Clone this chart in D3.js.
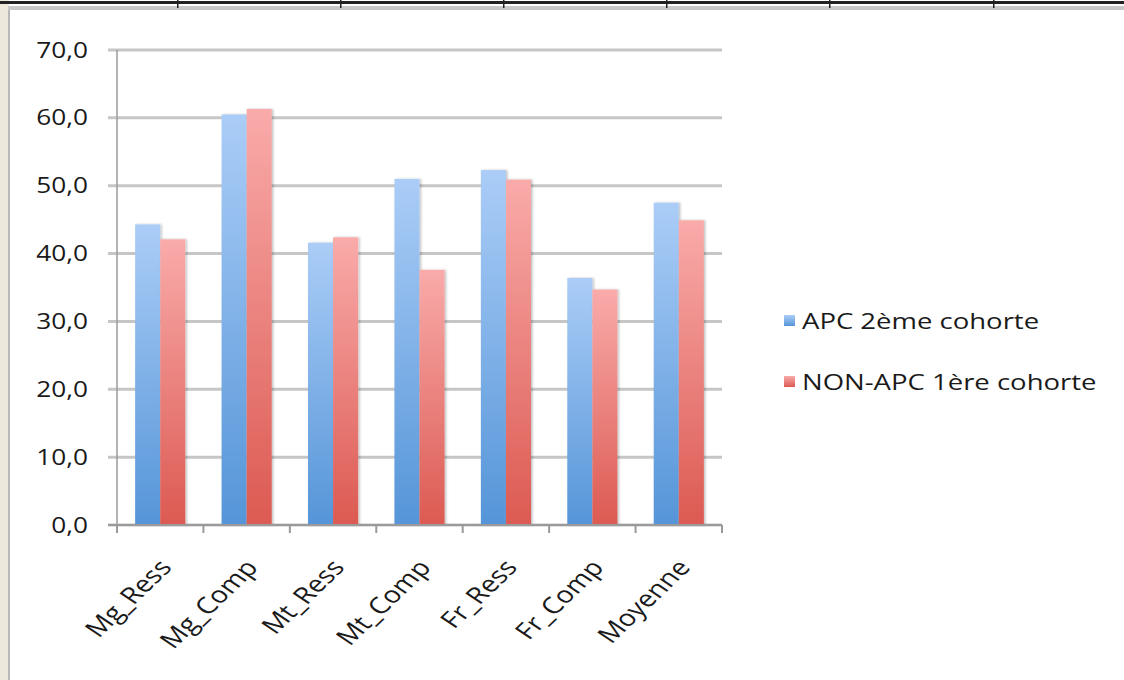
<!DOCTYPE html>
<html>
<head>
<meta charset="utf-8">
<script src="https://cdn.jsdelivr.net/npm/d3@7"></script>
<style>
  html, body { margin: 0; padding: 0; background: #fff; }
  svg { display: block; font-family: "Open Sans", "Noto Sans", sans-serif; }
</style>
</head>
<body>
<div id="chart"></div>
<script>
const categories = ["Mg_Ress", "Mg_Comp", "Mt_Ress", "Mt_Comp", "Fr_Ress", "Fr_Comp", "Moyenne"];
const seriesNames = ["APC 2ème cohorte", "NON-APC 1ère cohorte"];
const apc = [44.3, 60.5, 41.6, 51.0, 52.3, 36.4, 47.5];
const nonApc = [42.1, 61.3, 42.4, 37.6, 50.9, 34.7, 44.9];
const yTicks = [0, 10, 20, 30, 40, 50, 60, 70];

const width = 1124, height = 680;
// the original screenshot is stretched sideways, so text is too
const sx = 1.25;
const fontSize = 21;

const svg = d3.select("#chart").append("svg")
  .attr("width", width)
  .attr("height", height);

const defs = svg.append("defs");
const grads = [
  { id: "gBlue", top: "#abcdf7", bottom: "#5595d8" },
  { id: "gRed", top: "#f9abaa", bottom: "#dc5a52" }
];
grads.forEach(g => {
  const lg = defs.append("linearGradient").attr("id", g.id)
    .attr("x1", 0).attr("y1", 0).attr("x2", 0).attr("y2", 1);
  lg.append("stop").attr("offset", "0%").attr("stop-color", g.top);
  lg.append("stop").attr("offset", "100%").attr("stop-color", g.bottom);
});
const shadow = defs.append("filter").attr("id", "shadow")
  .attr("x", "-20%").attr("y", "-5%").attr("width", "150%").attr("height", "110%");
shadow.append("feDropShadow").attr("dx", 1.5).attr("dy", 0).attr("stdDeviation", 1.2)
  .attr("flood-color", "#000").attr("flood-opacity", 0.25);

// window frame bits around the chart
svg.append("rect").attr("x", 0).attr("y", 0).attr("width", 9).attr("height", height).attr("fill", "#ece9dc");
svg.append("rect").attr("x", 8).attr("y", 8).attr("width", 2).attr("height", height).attr("fill", "#b8b8b8");
svg.append("rect").attr("x", 8).attr("y", 6).attr("width", width).attr("height", 4).attr("fill", "#c8c8c8");
svg.append("rect").attr("x", 0).attr("y", 1).attr("width", width).attr("height", 3).attr("fill", "#222");
[177, 340, 503, 666, 829, 993].forEach(x => {
  svg.append("rect").attr("x", x).attr("y", 0).attr("width", 1.5).attr("height", 8).attr("fill", "#222");
});

const margin = { left: 117, right: 722, top: 50, bottom: 525 };

const x = d3.scaleBand()
  .domain(categories)
  .range([margin.left, margin.right])
  .paddingInner(0.42)
  .paddingOuter(0.21);

const x1 = d3.scaleBand()
  .domain([0, 1])
  .range([0, x.bandwidth()]);

const y = d3.scaleLinear()
  .domain([0, 70])
  .range([margin.bottom, margin.top]);

const fmt = v => d3.format(".1f")(v).replace(".", ",");

// gridlines
svg.append("g")
  .selectAll("line")
  .data(yTicks)
  .join("line")
  .attr("x1", margin.left - 9)
  .attr("x2", margin.right)
  .attr("y1", d => y(d))
  .attr("y2", d => y(d))
  .attr("stroke", "#c6c6c6")
  .attr("stroke-width", 3);

// y axis labels
svg.append("g")
  .selectAll("text")
  .data(yTicks)
  .join("text")
  .attr("transform", d => `translate(88,${y(d)}) scale(${sx},1)`)
  .attr("dy", "0.36em")
  .attr("text-anchor", "end")
  .attr("font-size", fontSize)
  .attr("fill", "#1a1a1a")
  .text(fmt);

svg.append("line")
  .attr("x1", margin.left).attr("x2", margin.left)
  .attr("y1", margin.top).attr("y2", margin.bottom)
  .attr("stroke", "#9a9a9a").attr("stroke-width", 1.5);

// bars
const data = categories.map((c, i) => ({ cat: c, values: [apc[i], nonApc[i]] }));
const groups = svg.append("g")
  .selectAll("g")
  .data(data)
  .join("g")
  .attr("transform", d => `translate(${x(d.cat)},0)`);

groups.selectAll("rect")
  .data(d => d.values.map((v, k) => ({ v, k })))
  .join("rect")
  .attr("x", d => x1(d.k))
  .attr("width", x1.bandwidth())
  .attr("y", d => y(d.v))
  .attr("height", d => y(0) - y(d.v))
  .attr("fill", d => d.k === 0 ? "url(#gBlue)" : "url(#gRed)")
  .attr("filter", "url(#shadow)");

// x axis line and ticks
svg.append("line")
  .attr("x1", margin.left - 9).attr("x2", margin.right)
  .attr("y1", margin.bottom).attr("y2", margin.bottom)
  .attr("stroke", "#9a9a9a").attr("stroke-width", 2);

const step = (margin.right - margin.left) / categories.length;
svg.append("g")
  .selectAll("line")
  .data(d3.range(categories.length + 1))
  .join("line")
  .attr("x1", d => margin.left + d * step)
  .attr("x2", d => margin.left + d * step)
  .attr("y1", margin.bottom)
  .attr("y2", margin.bottom + 8)
  .attr("stroke", "#9a9a9a")
  .attr("stroke-width", 2);

// x labels, rotated
svg.append("g")
  .selectAll("text")
  .data(categories)
  .join("text")
  .attr("transform", d => `translate(${x(d) + x.bandwidth() / 2 + 5},${margin.bottom + 38}) scale(${sx},1) rotate(-50)`)
  .attr("text-anchor", "end")
  .attr("dy", "0.35em")
  .attr("font-size", 23)
  .attr("fill", "#1a1a1a")
  .text(d => d);

// legend
const legend = svg.append("g")
  .selectAll("g")
  .data(seriesNames)
  .join("g")
  .attr("transform", (d, i) => `translate(784,${321 + i * 61})`);

legend.append("rect")
  .attr("x", 0).attr("y", -6)
  .attr("width", 11).attr("height", 11)
  .attr("fill", (d, i) => i === 0 ? "url(#gBlue)" : "url(#gRed)");

legend.append("text")
  .attr("transform", `translate(18,0) scale(${sx},1)`)
  .attr("dy", "0.36em")
  .attr("font-size", 22)
  .attr("fill", "#1a1a1a")
  .text(d => d);
</script>
</body>
</html>
